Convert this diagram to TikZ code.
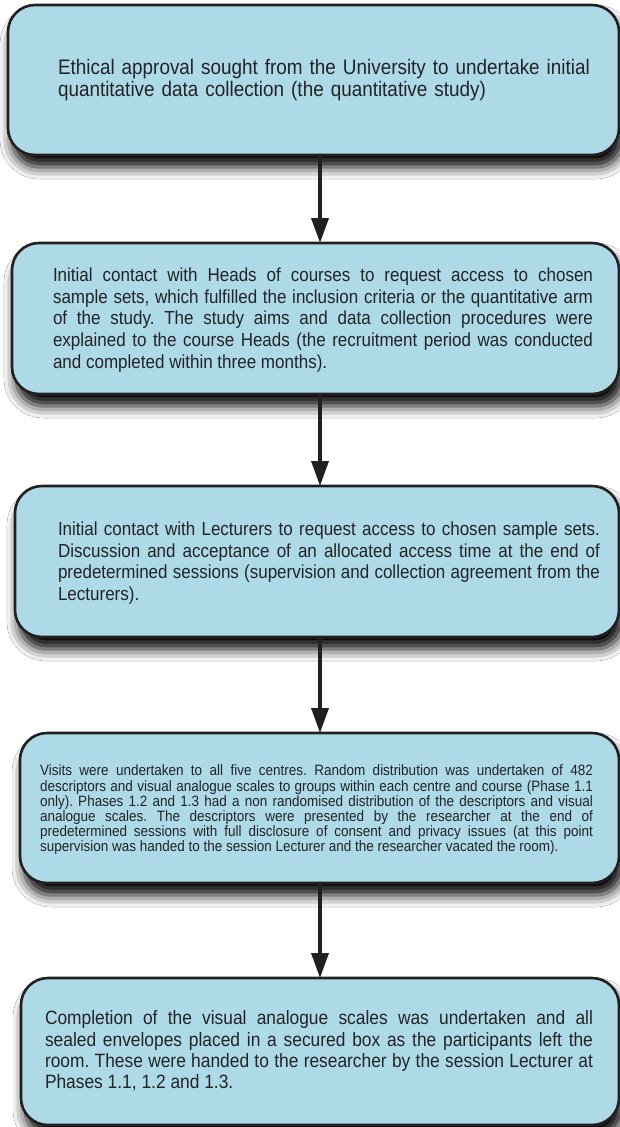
\documentclass[tikz,border=0pt]{standalone}
\usepackage{fontspec}
\setmainfont{Liberation Sans}[FakeStretch=0.9]
\usetikzlibrary{arrows.meta,shadows.blur}
\definecolor{boxfill}{RGB}{173,218,230}
\definecolor{ink}{RGB}{35,31,32}
\definecolor{txtc}{RGB}{35,35,40}
\hyphenpenalty=10000
\exhyphenpenalty=10000
\frenchspacing
\newcommand{\fsA}{\fontsize{21}{22}\selectfont}
\newcommand{\fsB}{\fontsize{18.9}{21.6}\selectfont}
\newcommand{\fsC}{\fontsize{15}{15.2}\selectfont}
\newcommand{\fsD}{\fontsize{19.3}{21.2}\selectfont}
\begin{document}
\begin{tikzpicture}[x=1pt,y=-1pt,
  flowbox/.style={draw=ink, line width=2.6pt, fill=boxfill, rounded corners=27pt,
    inner sep=0pt, outer sep=0pt,
    blur shadow={shadow xshift=4pt, shadow yshift=-12pt, shadow blur radius=12pt, shadow opacity=100}},
  boxtext/.style={inner sep=0pt, outer sep=0pt, text=txtc, align=justify},
  flowarrow/.style={draw=ink, line width=3.6pt, -{Triangle[width=17pt,length=25pt]}}]
\fill[white] (0,0) rectangle (620,1127);
\useasboundingbox (0,0) rectangle (620,1127);
\coordinate (ax) at (320,0);

\node[flowbox, minimum width=611pt, minimum height=150pt] (b1) at (313.5,80) {};
\node[flowbox, minimum width=607pt, minimum height=151pt] (b2) at (315.5,318.5) {};
\node[flowbox, minimum width=604pt, minimum height=151pt] (b3) at (317,561.5) {};
\node[flowbox, minimum width=599pt, minimum height=150pt] (b4) at (319.5,808) {};
\node[flowbox, minimum width=598pt, minimum height=147pt] (b5) at (320,1051.5) {};

\node[boxtext, align=left, text width=545pt, font=\fsA] (t1) at (330.5,80)
 {Ethical approval sought from the University to undertake initial\\
  quantitative data collection (the quantitative study)};
\node[boxtext, text width=540pt, font=\fsB] (t2) at (323,320)
 {Initial contact with Heads of courses to request access to chosen\linebreak
  sample sets, which fulfilled the inclusion criteria or the quantitative arm\linebreak
  of the study. The study aims and data collection procedures were\linebreak
  explained to the course Heads (the recruitment period was conducted\linebreak
  and completed within three months).};
\node[boxtext, text width=542pt, font=\fsB] (t3) at (329,563)
 {Initial contact with Lecturers to request access to chosen sample sets.\linebreak
  Discussion and acceptance of an allocated access time at the end of\linebreak
  predetermined sessions (supervision and collection agreement from the\linebreak
  Lecturers).};
\node[boxtext, text width=553pt, font=\fsC] (t4) at (316.5,810)
 {Visits were undertaken to all five centres. Random distribution was undertaken of 482\linebreak
  descriptors and visual analogue scales to groups within each centre and course (Phase 1.1\linebreak
  only). Phases 1.2 and 1.3 had a non randomised distribution of the descriptors and visual\linebreak
  analogue scales. The descriptors were presented by the researcher at the end of\linebreak
  predetermined sessions with full disclosure of consent and privacy issues (at this point\linebreak
  supervision was handed to the session Lecturer and the researcher vacated the room).};
\node[boxtext, text width=548pt, font=\fsD] (t5) at (319,1051)
 {Completion of the visual analogue scales was undertaken and all\linebreak
  sealed envelopes placed in a secured box as the participants left the\linebreak
  room. These were handed to the researcher by the session Lecturer at\linebreak
  Phases 1.1, 1.2 and 1.3.};

\draw[flowarrow] (b1.south -| ax) -- (b2.north -| ax);
\draw[flowarrow] (b2.south -| ax) -- (b3.north -| ax);
\draw[flowarrow] (b3.south -| ax) -- (b4.north -| ax);
\draw[flowarrow] (b4.south -| ax) -- (b5.north -| ax);
\end{tikzpicture}
\end{document}
